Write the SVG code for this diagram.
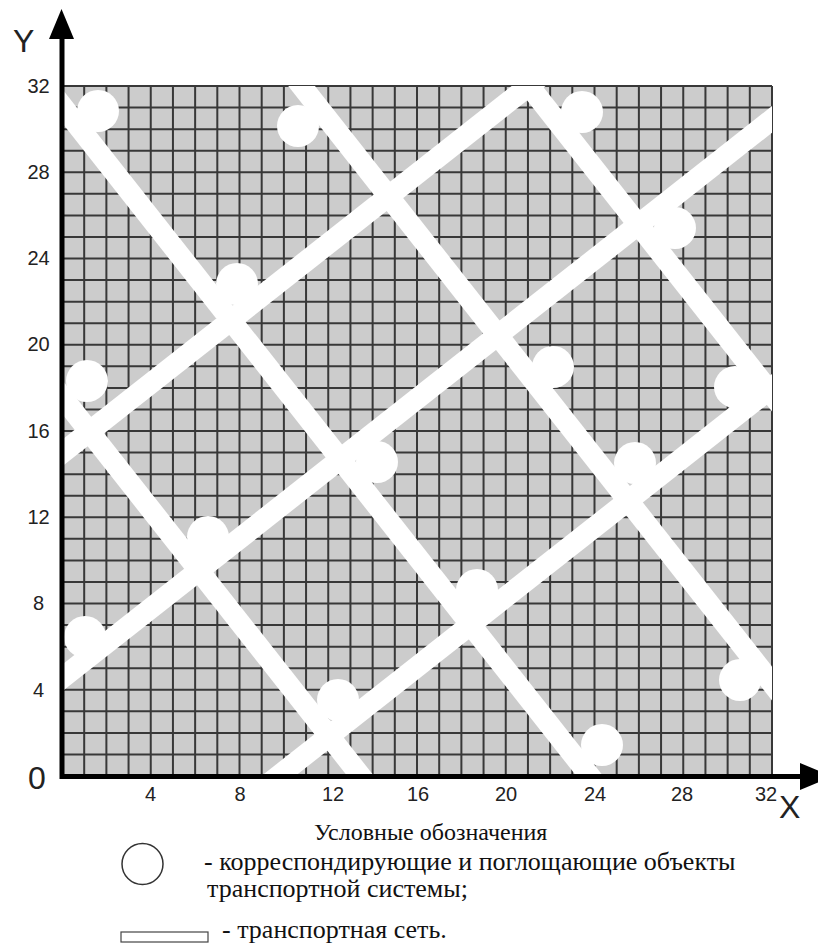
<svg xmlns="http://www.w3.org/2000/svg" width="818" height="945" viewBox="0 0 818 945">
<style>
.grid{stroke:#383838;stroke-width:2;fill:none}
.road{stroke:#fff;stroke-width:21;stroke-linecap:butt;fill:none}
.obj{fill:#fff}
.lab{font-family:"Liberation Sans",Arial,sans-serif;font-size:20px;fill:#222}
.big{font-family:"Liberation Sans",Arial,sans-serif;font-size:32px;fill:#222}
.leg{font-family:"Liberation Serif","Times New Roman",serif;font-size:26px;fill:#111}
</style>
<defs>
<clipPath id="area"><rect x="62" y="86" width="710" height="690"/></clipPath>
</defs>
<rect width="818" height="945" fill="#fff"/>
<g id="grid">
<rect x="62" y="86" width="710" height="690" fill="#cccccc"/>
<path class="grid" d="M84.19 86V776M106.38 86V776M128.56 86V776M150.75 86V776M172.94 86V776M195.13 86V776M217.31 86V776M239.5 86V776M261.69 86V776M283.88 86V776M306.06 86V776M328.25 86V776M350.44 86V776M372.63 86V776M394.81 86V776M417 86V776M439.19 86V776M461.38 86V776M483.56 86V776M505.75 86V776M527.94 86V776M550.13 86V776M572.31 86V776M594.5 86V776M616.69 86V776M638.88 86V776M661.06 86V776M683.25 86V776M705.44 86V776M727.63 86V776M749.81 86V776M772 86V776
M62 86H772M62 107.56H772M62 129.13H772M62 150.69H772M62 172.25H772M62 193.81H772M62 215.38H772M62 236.94H772M62 258.5H772M62 280.06H772M62 301.63H772M62 323.19H772M62 344.75H772M62 366.31H772M62 387.88H772M62 409.44H772M62 431H772M62 452.56H772M62 474.13H772M62 495.69H772M62 517.25H772M62 538.81H772M62 560.38H772M62 581.94H772M62 603.5H772M62 625.06H772M62 646.63H772M62 668.19H772M62 689.75H772M62 711.31H772M62 732.88H772M62 754.44H772"/>
</g>
<g id="roads" clip-path="url(#area)">
<line class="road" x1="30" y1="356.1" x2="400" y2="826"/>
<line class="road" x1="30" y1="65.1" x2="620" y2="814.4"/>
<line class="road" x1="280" y1="58.6" x2="800" y2="719"/>
<line class="road" x1="500" y1="49" x2="800" y2="430"/>
<line class="road" x1="30" y1="478.4" x2="560" y2="61.3"/>
<line class="road" x1="30" y1="703.4" x2="800" y2="97.4"/>
<line class="road" x1="250" y1="798.3" x2="800" y2="365.4"/>
</g>
<g id="objects">
<circle class="obj" cx="98" cy="111" r="21"/>
<circle class="obj" cx="298" cy="126" r="21"/>
<circle class="obj" cx="582" cy="112" r="21"/>
<circle class="obj" cx="675" cy="228" r="21"/>
<circle class="obj" cx="237" cy="284" r="21"/>
<circle class="obj" cx="87" cy="381" r="21"/>
<circle class="obj" cx="553" cy="367" r="21"/>
<circle class="obj" cx="735" cy="387" r="21"/>
<circle class="obj" cx="377" cy="462" r="21"/>
<circle class="obj" cx="635" cy="463" r="21"/>
<circle class="obj" cx="208" cy="537" r="21"/>
<circle class="obj" cx="477" cy="590" r="21"/>
<circle class="obj" cx="85" cy="637" r="21"/>
<circle class="obj" cx="740" cy="680" r="21"/>
<circle class="obj" cx="338" cy="700" r="21"/>
<circle class="obj" cx="602" cy="745" r="21"/>
</g>
<g id="axes">
<line x1="62" y1="776.5" x2="805" y2="776.5" stroke="#000" stroke-width="5"/>
<line x1="62" y1="779" x2="62" y2="30" stroke="#000" stroke-width="5"/>
<polygon points="61.5,9 74,39 49,39" fill="#000"/>
<polygon points="832,776.5 800,763 800,790" fill="#000"/>
<text class="big" x="13" y="52">Y</text>
<text class="big" x="779" y="818">X</text>
<text class="big" x="28" y="789">0</text>
</g>
<g id="ylabels" class="lab" text-anchor="middle">
<text x="38.5" y="93">32</text>
<text x="38.5" y="179">28</text>
<text x="38.5" y="265">24</text>
<text x="38.5" y="351">20</text>
<text x="38.5" y="438">16</text>
<text x="38.5" y="524">12</text>
<text x="38.5" y="610">8</text>
<text x="38.5" y="697">4</text>
</g>
<g id="xlabels" class="lab" text-anchor="middle">
<text x="150.5" y="801">4</text>
<text x="240" y="801">8</text>
<text x="333" y="801">12</text>
<text x="418" y="801">16</text>
<text x="506" y="801">20</text>
<text x="595" y="801">24</text>
<text x="682" y="801">28</text>
<text x="766" y="801">32</text>
</g>
<g id="legend">
<text class="leg" x="314" y="840" style="font-size:24px">Условные обозначения</text>
<circle cx="142.5" cy="864" r="20.5" fill="#fff" stroke="#333" stroke-width="1.5"/>
<text class="leg" x="204" y="870">- корреспондирующие и поглощающие объекты</text>
<text class="leg" x="207" y="897">транспортной системы;</text>
<rect x="121" y="932" width="87" height="10" fill="#fff" stroke="#444" stroke-width="1.2"/>
<text class="leg" x="222" y="938">- транспортная сеть.</text>
</g>
</svg>
